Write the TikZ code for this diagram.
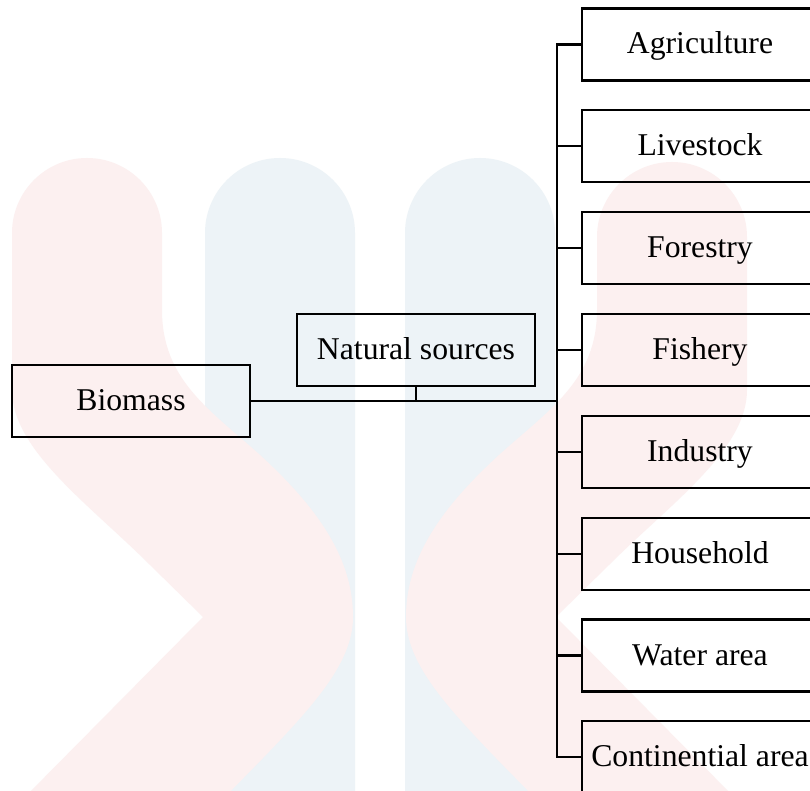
\documentclass[tikz,border=0pt]{standalone}
\usepackage{fontspec}
\setmainfont{Liberation Serif}
\definecolor{wmpink}{RGB}{252,240,240}
\definecolor{wmblue}{RGB}{237,243,247}
\tikzset{
  boxbase/.style={draw, line width=1.1pt, rectangle, minimum height=36pt, inner sep=0pt,
    text height=9.5pt, text depth=0pt, font=\fontsize{15.85pt}{19pt}\selectfont},
  leftbox/.style={boxbase, minimum width=119pt},
  rightbox/.style={boxbase, minimum width=118pt},
  link/.style={line width=1.1pt},
  wmp/.style={fill=wmpink, draw=none},
  wmb/.style={fill=wmblue, draw=none},
}
\begin{document}
\begin{tikzpicture}[x=0.5pt, y=-0.5pt]
\clip (0,0) rectangle (810,791);
\fill[white] (0,0) rectangle (810,791);
% watermark: blue bars
\fill[wmb] (205,800) -- (205,233) .. controls (205,191.6) and (238.6,158) .. (280,158)
  .. controls (321.4,158) and (355,191.6) .. (355,233) -- (355,800) -- cycle;
\fill[wmb] (405,800) -- (405,233) .. controls (405,191.6) and (438.6,158) .. (480,158)
  .. controls (521.4,158) and (555,191.6) .. (555,233) -- (555,800) -- cycle;
% watermark: pink chevrons
\fill[wmp] (12,390) -- (12,233) .. controls (12,191.6) and (45.6,158) .. (87,158)
  .. controls (128.4,158) and (162,191.6) .. (162,233) -- (162,310)
  .. controls (162,380) and (210,410) .. (260,455)
  .. controls (320,510) and (353,560) .. (353,617)
  .. controls (353,670) and (300,720) .. (222,800)
  -- (22,800) -- (203,617) -- (150,565)
  .. controls (90,505) and (12,450) .. (12,390) -- cycle;
\begin{scope}[shift={(759,0)}, xscale=-1]
\fill[wmp] (12,390) -- (12,237) .. controls (12,195.6) and (45.6,162) .. (87,162)
  .. controls (128.4,162) and (162,195.6) .. (162,237) -- (162,310)
  .. controls (162,380) and (210,410) .. (260,455)
  .. controls (320,510) and (353,560) .. (353,617)
  .. controls (353,670) and (300,720) .. (222,800)
  -- (22,800) -- (203,617) -- (150,565)
  .. controls (90,505) and (12,450) .. (12,390) -- cycle;
\end{scope}
% nodes
\node[leftbox] (bio) at (131,401) {Biomass};
\node[leftbox] (nat) at (416,350) {Natural sources};
\node[rightbox] (agri) at (700,44.5) {Agriculture};
\node[rightbox] (live) at (700,146.3) {Livestock};
\node[rightbox] (fore) at (700,248.2) {Forestry};
\node[rightbox] (fish) at (700,350) {Fishery};
\node[rightbox] (indu) at (700,451.9) {Industry};
\node[rightbox] (hous) at (700,553.7) {Household};
\node[rightbox] (wate) at (700,655.6) {Water area};
\node[rightbox] (cont) at (700,757.4) {Continential area};
\coordinate (tx) at (557,401);
% connectors
\draw[link] (agri.west) -- (agri.west -| tx) -- (cont.west -| tx) -- (cont.west);
\draw[link] (bio.east) -- (bio.east -| tx);
\draw[link] (nat.south) -- (nat.south |- bio.east);
\foreach \n in {live,fore,fish,indu,hous,wate}{
  \draw[link] (\n.west) -- (\n.west -| tx);
}
\end{tikzpicture}
\end{document}
